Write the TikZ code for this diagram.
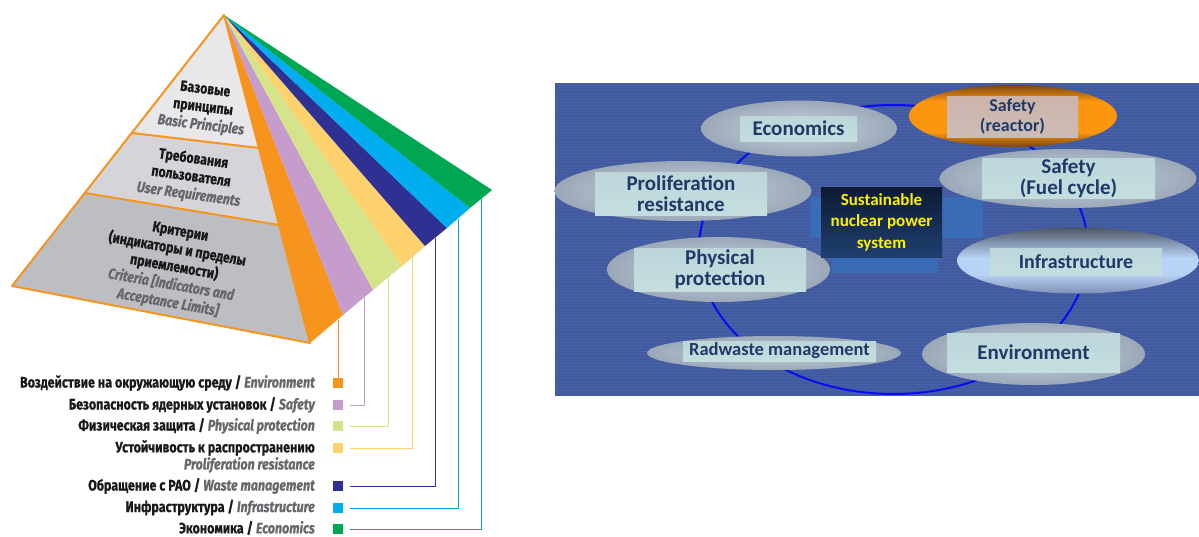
\documentclass[tikz,border=0pt]{standalone}
\usepackage{fontspec}
\setmainfont{Fira Sans}
\newfontfamily\condfont[FakeStretch=0.82, BoldFeatures={FakeBold=0.6}, BoldItalicFeatures={FakeBold=0.6}]{Fira Sans}
\newfontfamily\calfont{Carlito}
\usetikzlibrary{shapes.geometric}
\definecolor{cO}{HTML}{F7941D}
\definecolor{cP}{HTML}{C59CCB}
\definecolor{cL}{HTML}{D5E38A}
\definecolor{cY}{HTML}{FDD26E}
\definecolor{cN}{HTML}{2E3192}
\definecolor{cC}{HTML}{00AEEF}
\definecolor{cG}{HTML}{00A651}
\definecolor{pA}{HTML}{E8E8EB}
\definecolor{pB}{HTML}{D5D5D9}
\definecolor{pC}{HTML}{BDBEC2}
\definecolor{engrey}{HTML}{66676A}
\definecolor{bgblue}{HTML}{425A9F}
\definecolor{bgstripe}{HTML}{4860A6}
\definecolor{ringblue}{HTML}{0A0AF5}
\definecolor{txtblue}{HTML}{1F3A66}
\definecolor{shadowblue}{HTML}{3A6BB6}
\definecolor{ellIn}{HTML}{C7D5DF}
\definecolor{ellOut}{HTML}{9AA8B8}
\definecolor{boxTop}{HTML}{BCD6DA}
\definecolor{boxMid}{HTML}{C3EDFB}
\definecolor{boxBot}{HTML}{C4DEE0}
\definecolor{rDark}{HTML}{7A4510}
\definecolor{rBright}{HTML}{FC960E}
\definecolor{iTop}{HTML}{4E5666}
\definecolor{iMid}{HTML}{B9D3F6}
\definecolor{iBot}{HTML}{7F8FB5}
\definecolor{sTop}{HTML}{CDB3AA}
\definecolor{sMid}{HTML}{F3925E}
\definecolor{sBot}{HTML}{CBBDB6}
\definecolor{coreTop}{HTML}{0D1A33}
\definecolor{coreBot}{HTML}{1F3F70}
\pgfdeclareverticalshading{reactorsh}{100bp}{color(0bp)=(rDark); color(25bp)=(rDark); color(37bp)=(rBright); color(62bp)=(rBright); color(75bp)=(rDark); color(100bp)=(rDark)}
\pgfdeclareverticalshading{infrash}{100bp}{color(0bp)=(iBot); color(25bp)=(iBot); color(40bp)=(iMid); color(52bp)=(iMid); color(75bp)=(iTop); color(100bp)=(iTop)}
\newcommand\en[1]{{\color{engrey}\itshape #1}}
\tikzset{
  pyr/.style={align=center, inner sep=0pt, text=black!90,
    font=\condfont\bfseries\fontsize{15}{18}\selectfont},
  leg/.style={anchor=east, inner sep=0pt, text=black!90,
    font=\condfont\bfseries\fontsize{15.2}{16}\selectfont},
  sq/.style={minimum size=10pt, inner sep=0pt, draw=none},
  lnk/.style={line width=0.9pt},
  ell/.style={ellipse, inner sep=0pt, draw=none, shading=radial,
    inner color=ellIn, outer color=ellOut},
  tbox/.style={rectangle, inner sep=0pt, align=center, text=txtblue,
    top color=boxTop, middle color=boxMid, bottom color=boxBot,
    font=\calfont\bfseries\fontsize{21}{21}\selectfont},
}
\begin{document}
\begin{tikzpicture}[x=1pt,y=-1pt]
\useasboundingbox (0,0) rectangle (1199,536);
\fill[white] (0,0) rectangle (1199,536);
% ---------------- pyramid ----------------
\coordinate (apex) at (224,15);
\coordinate (L) at (12,286);
\coordinate (R) at (310,343);
\coordinate (d1l) at (132,133);
\coordinate (d1r) at (259,148);
\coordinate (d2l) at (85,193);
\coordinate (d2r) at (279,225);
\coordinate (b1) at (343,315);
\coordinate (b2) at (373,290);
\coordinate (b3) at (402,266);
\coordinate (b4) at (425,246);
\coordinate (b5) at (447,228);
\coordinate (b6) at (470,208);
\coordinate (b7) at (492,190);
\fill[pA] (apex) -- (d1l) -- (d1r) -- cycle;
\fill[pB] (d1l) -- (d2l) -- (d2r) -- (d1r) -- cycle;
\fill[pC] (d2l) -- (L) -- (R) -- (d2r) -- cycle;
\fill[cO] (apex) -- (R) -- (b1) -- cycle;
\fill[cP] (apex) -- (b1) -- (b2) -- cycle;
\fill[cL] (apex) -- (b2) -- (b3) -- cycle;
\fill[cY] (apex) -- (b3) -- (b4) -- cycle;
\fill[cN] (apex) -- (b4) -- (b5) -- cycle;
\fill[cC] (apex) -- (b5) -- (b6) -- cycle;
\fill[cG] (apex) -- (b6) -- (b7) -- cycle;
\draw[cO, line width=2pt, line join=round] (R) -- (apex) -- (L) -- cycle;
\draw[cO, line width=2pt] (d1l) -- (d1r);
\draw[cO, line width=2pt] (d2l) -- (d2r);
\node[pyr, rotate=-7] (tBase) at (203,108) {Базовые\\принципы\\\en{Basic Principles}};
\node[pyr, rotate=-8] (tUser) at (191,177) {Требования\\пользователя\\\en{User Requirements}};
\node[pyr, rotate=-10] (tCrit) at (174,268) {Критерии\\(индикаторы и пределы\\приемлемости)\\\en{Criteria [Indicators and}\\\en{Acceptance Limits]}};
% ---------------- legend ----------------
\node[leg] (lO) at (315,383) {Воздействие на окружающую среду / \en{Environment}};
\node[leg] (lP) at (315,405) {Безопасность ядерных установок / \en{Safety}};
\node[leg] (lL) at (315,426) {Физическая защита / \en{Physical protection}};
\node[leg] (lY) at (315,448) {Устойчивость к распространению};
\node[leg] (lY2) at (315,465) {\en{Proliferation resistance}};
\node[leg] (lN) at (315,486) {Обращение с РАО / \en{Waste management}};
\node[leg] (lC) at (315,507.5) {Инфраструктура / \en{Infrastructure}};
\node[leg] (lG) at (315,528) {Экономика / \en{Economics}};
\node[sq, fill=cO] (sO) at (338,383) {};
\node[sq, fill=cP] (sP) at (338,405) {};
\node[sq, fill=cL] (sL) at (338,426) {};
\node[sq, fill=cY] (sY) at (338,448) {};
\node[sq, fill=cN] (sN) at (338,486) {};
\node[sq, fill=cC] (sC) at (338,508) {};
\node[sq, fill=cG] (sG) at (338,529) {};
\coordinate (tO) at (338,319.5);
\coordinate (tP) at (364,297.6);
\coordinate (tL) at (388,277.4);
\coordinate (tY) at (412,257.2);
\coordinate (tN) at (435,237.9);
\coordinate (tC) at (458,218.6);
\coordinate (tG) at (481,199.2);
\draw[lnk, cO] (tO) -- (sO.north);
\draw[lnk, cP, shorten >=7pt] (tP) |- (sP.east);
\draw[lnk, cL, shorten >=7pt] (tL) |- (sL.east);
\draw[lnk, cY, shorten >=7pt] (tY) |- (sY.east);
\draw[lnk, cN, shorten >=7pt] (tN) |- (sN.east);
\draw[lnk, cC!75!teal, shorten >=7pt] (tC) |- (sC.east);
\draw[lnk, cG!75!teal!80!cyan, shorten >=7pt] (tG) |- (sG.east);
% ---------------- right diagram ----------------
\fill[bgblue] (555,83) rectangle (1199,396);
\foreach \yy in {84.5,87.5,...,395} \draw[bgstripe, line width=1pt] (555,\yy) -- (1199,\yy);
\draw[ringblue, line width=2pt] (893.5,249.5) ellipse [x radius=194.5pt, y radius=144.5pt];
\fill[shadowblue] (810,197) rectangle (983,238);
\fill[shadowblue] (832,238) rectangle (938,273);
% ellipses
\node[ell, minimum width=196pt, minimum height=56pt] (eEco) at (799,128.5) {};
\node[ellipse, inner sep=0pt, minimum width=208pt, minimum height=62pt, shading=reactorsh] (eRea) at (1013,116) {};
\node[ell, minimum width=257pt, minimum height=59pt] (eFuel) at (1068,178.5) {};
\node[ell, minimum width=257pt, minimum height=60pt] (ePro) at (683,191) {};
\node[ellipse, inner sep=0pt, minimum width=242pt, minimum height=66pt, shading=infrash] (eInf) at (1078,260.5) {};
\node[ell, minimum width=223pt, minimum height=65pt] (ePhy) at (718.5,269.5) {};
\node[ell, minimum width=254pt, minimum height=34pt] (eRad) at (774,353) {};
\node[ell, minimum width=223pt, minimum height=62pt] (eEnv) at (1033.5,354) {};
% text boxes
\node[tbox, minimum width=117pt, minimum height=25pt] (tEco) at (798.5,128.5) {Economics};
\node[tbox, minimum width=131pt, minimum height=41pt,
  top color=sTop, middle color=sMid, bottom color=sBot,
  font=\calfont\bfseries\fontsize{18}{20}\selectfont] (tRea) at (1012.5,116.5) {Safety\\(reactor)};
\node[tbox, minimum width=173pt, minimum height=40pt] (tFuel) at (1068.5,178) {Safety\\(Fuel cycle)};
\node[tbox, minimum width=172pt, minimum height=43pt] (tPro) at (681,193.5) {Proliferation\\resistance};
\node[tbox, minimum width=172pt, minimum height=43pt] (tPhy) at (720,269.5) {Physical\\protection};
\node[tbox, minimum width=193pt, minimum height=20pt,
  font=\calfont\bfseries\fontsize{18.5}{18.5}\selectfont] (tRad) at (779.5,351) {Radwaste management};
\node[tbox, minimum width=172pt, minimum height=27pt, font=\calfont\bfseries\fontsize{20}{20}\selectfont] (tInf) at (1076,261.5) {Infrastructure};
\node[tbox, minimum width=173pt, minimum height=39pt] (tEnv) at (1033.5,352.5) {Environment};
% centre
\node[rectangle, inner sep=0pt, minimum width=121pt, minimum height=70pt, align=center,
  top color=coreTop, bottom color=coreBot, text=yellow,
  font=\calfont\bfseries\fontsize{17}{21.5}\selectfont] (core) at (881.5,222) {Sustainable\\nuclear power\\system};
\end{tikzpicture}
\end{document}
